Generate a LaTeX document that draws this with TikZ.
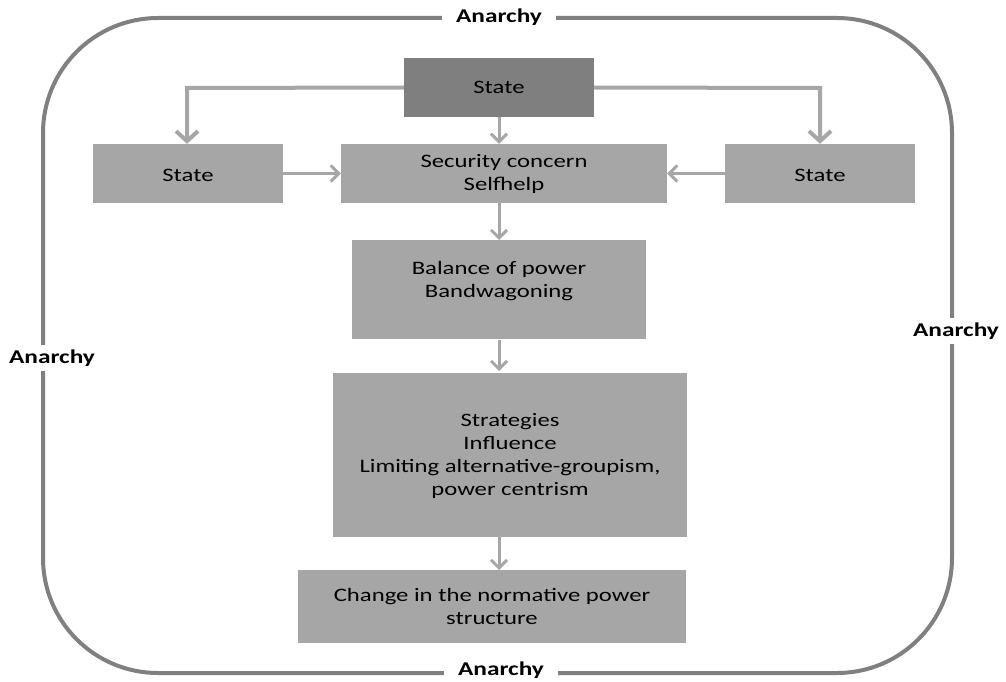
\documentclass[tikz,border=0pt]{standalone}
\usepackage{fontspec}
\setmainfont[FakeStretch=1.3]{Carlito}
\usetikzlibrary{arrows.meta}
\definecolor{boxgray}{HTML}{A6A6A6}
\definecolor{darkbox}{HTML}{7F7F7F}
\definecolor{framegray}{HTML}{808080}
\definecolor{arrgray}{HTML}{A6A6A6}
\newcommand{\mytxt}[2]{\raisebox{#1}[0pt][0pt]{#2}}
\newcommand{\mylines}[2]{\raisebox{#1}[0pt][0pt]{\begin{tabular}{@{}c@{}}#2\end{tabular}}}
\tikzset{
  x=1pt,y=-1pt,
  box/.style={fill=boxgray,draw=none,inner sep=0pt,align=center,font=\fontsize{19}{23}\selectfont},
  lbl/.style={fill=white,inner xsep=14pt,inner ysep=5pt,font=\bfseries\fontsize{19.5}{20}\selectfont},
  conn/.style={draw=arrgray,line width=3pt,-{Straight Barb[length=8pt,width=16pt,line width=3pt]}},
  bigconn/.style={draw=arrgray,line width=4pt,-{Straight Barb[length=10pt,width=22pt,line width=4pt]}},
}
\begin{document}
\begin{tikzpicture}
\useasboundingbox (0,0) rectangle (1006,682);
\draw[framegray,line width=4pt,rounded corners=115pt] (43,18) rectangle (952,673);
\node[lbl] (atop) at (499,17) {Anarchy};
\node[lbl] (abot) at (501,670) {Anarchy};
\node[lbl,inner xsep=2pt] (aleft) at (52,358) {Anarchy};
\node[lbl,inner xsep=2pt] (aright) at (956,331) {Anarchy};

\node[box,fill=darkbox,minimum width=190pt,minimum height=59pt] (top) at (499,87.5) {\mytxt{-6pt}{State}};
\node[box,minimum width=190pt,minimum height=59pt] (left) at (188,173.5) {\mytxt{-7.5pt}{State}};
\node[box,minimum width=326pt,minimum height=59pt] (sec) at (504,173.5) {\mylines{-5.25pt}{Security concern\\Selfhelp}};
\node[box,minimum width=190pt,minimum height=59pt] (right) at (820,173.5) {\mytxt{-7.5pt}{State}};
\node[box,minimum width=294pt,minimum height=99pt] (bal) at (499,289.5) {\mylines{4.25pt}{Balance of power\\Bandwagoning}};
\node[box,minimum width=354pt,minimum height=164pt] (str) at (510,455) {\mylines{-5.75pt}{Strategies\\Influence\\Limiting alternative-groupism,\\power centrism}};
\node[box,minimum width=388pt,minimum height=73pt] (chg) at (492,606.5) {Change in the normative power\\structure};

\coordinate (lc) at (187,88);
\coordinate (rc) at (820,88);
\draw[bigconn] (top.west) -- (lc) -- (lc |- left.north);
\draw[bigconn] (top.east) -- (rc) -- (rc |- right.north);
\draw[conn] (top.south) -- (top.south |- sec.north);
\draw[conn] (left.east) -- (sec.west);
\draw[conn] (right.west) -- (sec.east);
\draw[conn] (499,203) -- (499,240);
\draw[conn] (499,340) -- (499,371);
\draw[conn] (499,537) -- (499,570);
\end{tikzpicture}
\end{document}
